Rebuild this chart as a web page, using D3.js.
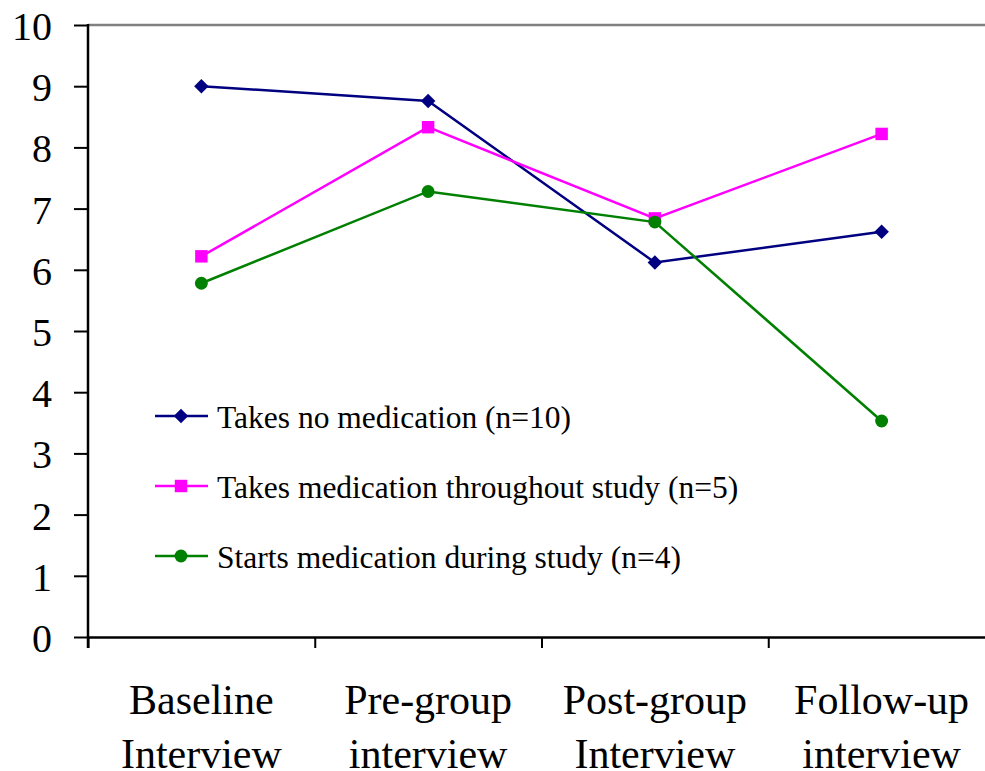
<!DOCTYPE html>
<html>
<head>
<meta charset="utf-8">
<script src="https://cdn.jsdelivr.net/npm/d3@7"></script>
<style>
  html, body { margin: 0; padding: 0; background: #fff; }
  svg { display: block; }
  text { font-family: "Liberation Serif", "Times New Roman", serif; fill: #000; }
</style>
</head>
<body>
<svg id="chart" width="985" height="771"></svg>
<script>
// Interview time points
const categories = [
  ["Baseline", "Interview"],
  ["Pre-group", "interview"],
  ["Post-group", "Interview"],
  ["Follow-up", "interview"]
];

// Mean scores for each group at each interview
const noMedication = [9.0, 8.76, 6.12, 6.62];
const medicationThroughout = [6.22, 8.33, 6.84, 8.22];
const startsMedication = [5.78, 7.28, 6.78, 3.53];

const seriesNames = [
  "Takes no medication (n=10)",
  "Takes medication throughout study (n=5)",
  "Starts medication during study (n=4)"
];
const yTicks = [0, 1, 2, 3, 4, 5, 6, 7, 8, 9, 10];

// Diamonds are squares turned 45 degrees
const series = [
  { name: seriesNames[0], values: noMedication, color: "#000080", symbol: d3.symbolSquare, size: 105, rotate: 45 },
  { name: seriesNames[1], values: medicationThroughout, color: "#FF00FF", symbol: d3.symbolSquare, size: 155, rotate: 0 },
  { name: seriesNames[2], values: startsMedication, color: "#008000", symbol: d3.symbolCircle, size: 130, rotate: 0 }
];

const svg = d3.select("#chart");
const plotLeft = 88, plotRight = 995, plotTop = 25, plotBottom = 637;

const x = d3.scaleBand().domain(d3.range(categories.length)).range([plotLeft, plotRight]);
const xEdges = d3.scaleLinear().domain([0, categories.length]).range([plotLeft, plotRight]);
const y = d3.scaleLinear().domain([0, 10]).range([plotBottom, plotTop]);
const cx = i => x(i) + x.bandwidth() / 2;

// Plot-area top border
svg.append("line")
  .attr("x1", plotLeft).attr("x2", plotRight)
  .attr("y1", plotTop).attr("y2", plotTop)
  .attr("stroke", "#808080").attr("stroke-width", 2.5);

// Y axis
const yAxis = svg.append("g")
  .attr("transform", `translate(${plotLeft},0)`)
  .call(d3.axisLeft(y).tickValues(yTicks).tickSize(14).tickSizeOuter(0).tickPadding(22).tickFormat(d3.format("d")));
yAxis.select(".domain").remove();
yAxis.selectAll(".tick line").attr("stroke", "#000").attr("stroke-width", 2);
yAxis.selectAll(".tick text")
  .style("font-family", '"Liberation Serif", "Times New Roman", serif')
  .style("font-size", "40px")
  .attr("dy", "0.36em");
svg.append("line")
  .attr("x1", plotLeft).attr("x2", plotLeft)
  .attr("y1", plotTop - 1).attr("y2", plotBottom + 11)
  .attr("stroke", "#000").attr("stroke-width", 2.5);

// X axis with ticks between categories
const xAxis = svg.append("g")
  .attr("transform", `translate(0,${plotBottom})`)
  .call(d3.axisBottom(xEdges).tickValues(d3.range(categories.length + 1)).tickSize(11).tickSizeOuter(0).tickFormat(""));
xAxis.select(".domain").attr("stroke", "#000").attr("stroke-width", 2.5);
xAxis.selectAll(".tick line").attr("stroke", "#000").attr("stroke-width", 2);

// Category labels (two lines)
const catLabels = svg.append("g").selectAll("text")
  .data(categories)
  .join("text")
  .attr("text-anchor", "middle")
  .style("font-size", "42px");
catLabels.append("tspan").attr("x", (d, i) => cx(i)).attr("y", 714).text(d => d[0]);
catLabels.append("tspan").attr("x", (d, i) => cx(i)).attr("y", 768).text(d => d[1]);

// Series lines and markers
const line = d3.line().x((d, i) => cx(i)).y(d => y(d));
series.forEach(s => {
  const g = svg.append("g");
  g.append("path")
    .attr("d", line(s.values))
    .attr("fill", "none")
    .attr("stroke", s.color)
    .attr("stroke-width", 2.5);
  g.selectAll("path.marker")
    .data(s.values)
    .join("path")
    .attr("class", "marker")
    .attr("transform", (d, i) => `translate(${cx(i)},${y(d)}) rotate(${s.rotate})`)
    .attr("d", d3.symbol().type(s.symbol).size(s.size))
    .attr("fill", s.color);
});

// Legend
const legendRows = [416, 486, 556];
const legend = svg.append("g").selectAll("g")
  .data(series)
  .join("g")
  .attr("transform", (d, i) => `translate(0,${legendRows[i]})`);
legend.append("line")
  .attr("x1", 155).attr("x2", 208)
  .attr("stroke", d => d.color).attr("stroke-width", 2.5);
legend.append("path")
  .attr("transform", d => `translate(181,0) rotate(${d.rotate})`)
  .attr("d", d => d3.symbol().type(d.symbol).size(d.size)())
  .attr("fill", d => d.color);
legend.append("text")
  .attr("x", 217).attr("y", 12)
  .style("font-size", "31.5px")
  .text(d => d.name);
</script>
</body>
</html>
